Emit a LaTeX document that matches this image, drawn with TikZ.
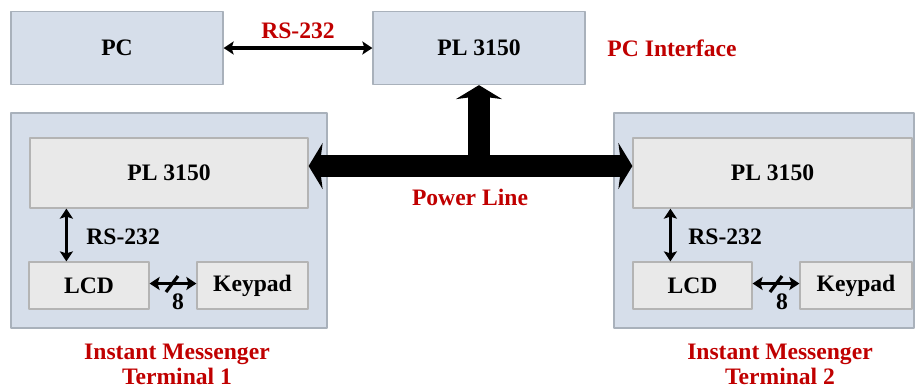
\documentclass[tikz,border=0pt]{standalone}
\usepackage{fontspec}
\setmainfont{Liberation Serif}
\usepackage{xcolor}
\usetikzlibrary{arrows.meta}
\definecolor{boxblue}{HTML}{D6DEEA}
\definecolor{edgeblue}{HTML}{A9B1BB}
\definecolor{boxgray}{HTML}{E9E9E9}
\definecolor{edgegray}{HTML}{B4B4B4}
\definecolor{labelred}{HTML}{C00000}
\tikzset{
  every picture/.style={font=\fontsize{11.8}{12.5}\selectfont\bfseries, line join=round},
  bluebox/.style={draw=edgeblue, fill=boxblue, line width=0.6pt, inner sep=0pt},
  graybox/.style={draw=edgegray, fill=boxgray, line width=0.6pt, inner sep=0pt},
  redlbl/.style={text=labelred, inner sep=0pt},
  lbl/.style={inner sep=0pt},
  sigtip/.tip={Stealth[length=5pt,width=6.5pt,inset=1pt]},
  sig/.style={line width=1.6pt, sigtip-sigtip},
  power/.style={line width=11pt},
  powertip/.tip={Stealth[length=7pt,width=23pt,inset=1.5pt]},
}

\begin{document}
\begin{tikzpicture}[x=0.5pt,y=-0.5pt]
\useasboundingbox (0,0) rectangle (915,388);
\node[bluebox, minimum width=106pt, minimum height=36.5pt] (pc) at (117,48) {PC};
\node[bluebox, minimum width=106pt, minimum height=36.5pt] (pcpl) at (479,48) {PL 3150};
\node[redlbl] (pcif) at (672,48) {PC Interface};
\draw[sig] (pc.east) -- (pcpl.west);
\node[redlbl] (pcrs) at (298,31) {RS-232};

\node[bluebox, minimum width=158pt, minimum height=107.5pt] (term1) at (169,220.5) {};
\node[graybox, minimum width=139pt, minimum height=35pt] (t1pl) at (169,173) {PL 3150};
\node[graybox, minimum width=60pt, minimum height=23.5pt] (t1lcd) at (89,285.5) {LCD};
\node[graybox, minimum width=55.5pt, minimum height=23.5pt] (t1key) at (252.5,285.5) {Keypad};
\draw[sig] ([xshift=19pt]t1lcd.north west |- t1pl.south) -- ([xshift=19pt]t1lcd.north west);
\node[lbl, anchor=west] (t1rs) at (86,237) {RS-232};
\draw[sig] ([yshift=1pt]t1lcd.east) -- ([yshift=1pt]t1key.west);
\draw[line width=1.6pt] (166,292) -- (178,276);
\node[lbl] (t1bus) at (178,302) {8};
\node[redlbl, align=center] (t1name) at (177,364) {Instant Messenger\\Terminal 1};

\node[bluebox, minimum width=150pt, minimum height=107.5pt] (term2) at (764,220.5) {};
\node[graybox, minimum width=139.5pt, minimum height=35pt] (t2pl) at (772.5,173) {PL 3150};
\node[graybox, minimum width=59.5pt, minimum height=23.5pt] (t2lcd) at (692.5,285.5) {LCD};
\node[graybox, minimum width=56pt, minimum height=23.5pt] (t2key) at (856,285.5) {Keypad};
\draw[sig] ([xshift=19pt]t2lcd.north west |- t2pl.south) -- ([xshift=19pt]t2lcd.north west);
\node[lbl, anchor=west] (t2rs) at (688,237) {RS-232};
\draw[sig] ([yshift=1pt]t2lcd.east) -- ([yshift=1pt]t2key.west);
\draw[line width=1.6pt] (770,292) -- (782,276);
\node[lbl] (t2bus) at (782,302) {8};
\node[redlbl, align=center] (t2name) at (780,364) {Instant Messenger\\Terminal 2};

\coordinate (plleft) at ([yshift=3.5pt]t1pl.east);
\coordinate (plright) at ([yshift=3.5pt]t2pl.west);
\coordinate (pljoin) at (pcpl.south |- plleft);
\draw[power, powertip-powertip] (plleft) -- (plright);
\draw[power, -powertip] (pljoin) -- (pcpl.south);
\node[redlbl] (plname) at (470,197) {Power Line};
\end{tikzpicture}
\end{document}
